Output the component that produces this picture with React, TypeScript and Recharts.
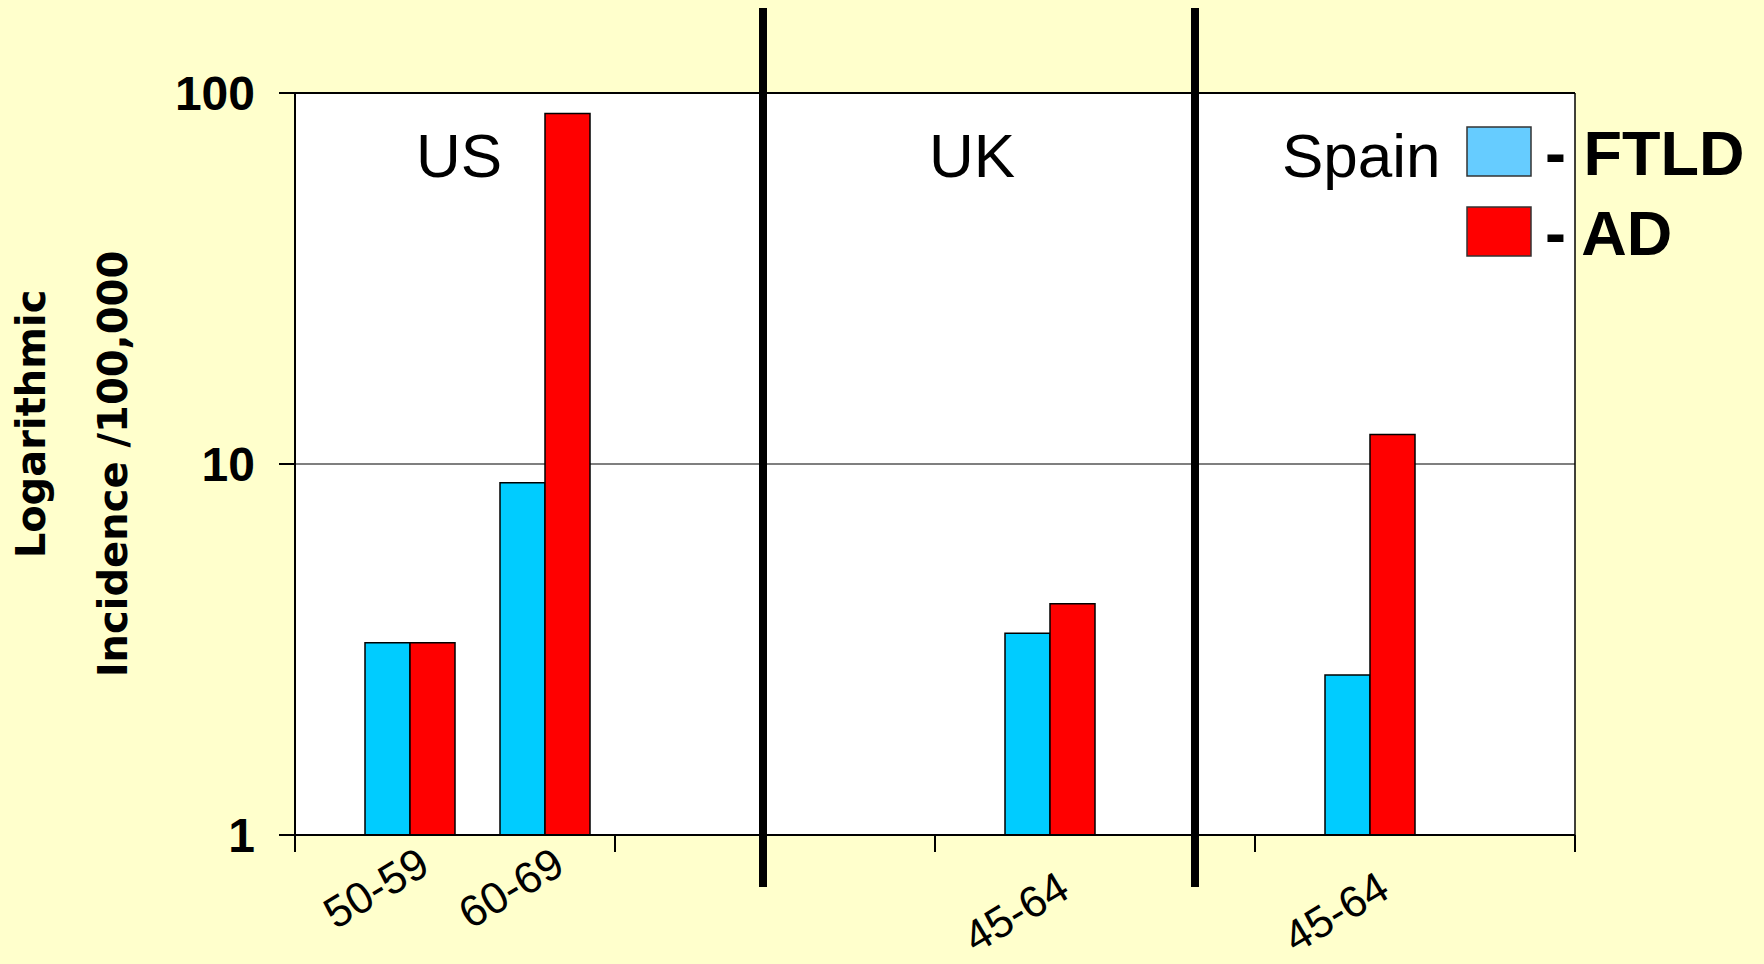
import React from "react";
import {
  Bar,
  BarChart,
  CartesianGrid,
  LabelList,
  Legend,
  ReferenceLine,
  XAxis,
  YAxis,
} from "recharts";

// one row per x-axis band; band 2 is the empty stretch between US and UK
const bands = ["US", "", "UK", "Spain"];
const ftldFirst = [3.3, null, 3.5, 2.7];
const adFirst = [3.3, null, 4.2, 12];
const ftldSecond = [8.9, null, null, null];
const adSecond = [88, null, null, null];
const ageFirst = ["50-59", "", "45-64", "45-64"];
const ageSecond = ["60-69", "", "", ""];

const countryTitles = ["US", "UK", "Spain"];
const legendOrder = ["FTLD", "AD"];
const yTicks = [1, 10, 100];
const bandEdges = [0, 1, 2, 3, 4];
// where the thick country dividers sit, in band units
const regionBreaks = [1.4625, 2.8125];

const data = bands.map((band, i) => ({
  band,
  slot: i + 0.5, // middle of band i
  ftldFirst: ftldFirst[i],
  adFirst: adFirst[i],
  ftldSecond: ftldSecond[i],
  adSecond: adSecond[i],
  ageFirst: ageFirst[i],
  ageSecond: ageSecond[i],
}));

const ARIAL = "'Liberation Sans', Arial, sans-serif";
const FTLD_FILL = "#00CCFF";
const AD_FILL = "#FF0000";
const legendFill: Record<string, string> = { FTLD: "#66CCFF", AD: "#FF0000" };

const renderAgeLabel = (props: any) => {
  const { x, y, height, value, index } = props;
  if (!value) return null;
  const drop = bands[index] === "US" ? 37 : 61;
  const ax = Number(x) + 22;
  const ay = Number(y) + Number(height) + drop;
  return (
    <text
      x={ax}
      y={ay}
      transform={`rotate(-31, ${ax}, ${ay})`}
      textAnchor="end"
      fontSize={44}
      fontFamily={ARIAL}
      fill="#000"
    >
      {value}
    </text>
  );
};

const Divider = (props: any) => {
  const top = Math.min(props.y1, props.y2);
  const bottom = Math.max(props.y1, props.y2);
  return (
    <line
      x1={props.x1}
      x2={props.x2}
      y1={top - 85}
      y2={bottom + 52}
      stroke="#000"
      strokeWidth={8}
    />
  );
};

const renderLegend = (props: any) => {
  const entries = (props.payload || [])
    .filter((e: any) => legendOrder.includes(e.value))
    .sort((a: any, b: any) => legendOrder.indexOf(a.value) - legendOrder.indexOf(b.value));
  return (
    <svg width={304} height={170}>
      {entries.map((entry: any, i: number) => (
        <g key={entry.value} transform={`translate(0, ${i * 80 + 17})`}>
          <rect
            x={7}
            y={7}
            width={64}
            height={49}
            fill={legendFill[entry.value]}
            stroke="#333"
            strokeWidth={1.5}
          />
          <text x={85} y={55} fontSize={63} fontWeight={700} fontFamily={ARIAL} fill="#000">
            - {entry.value}
          </text>
        </g>
      ))}
    </svg>
  );
};

export default function App() {
  const titleX = [459, 972, 1282];
  const titleAnchor = ["middle", "middle", "start"];

  return (
    <div
      style={{
        position: "absolute",
        left: 0,
        top: 0,
        width: 1764,
        height: 964,
        background: "#FFFFCC",
        overflow: "hidden",
      }}
    >
      <BarChart
        width={1764}
        height={964}
        data={data}
        barGap={0}
        barSize={45}
        margin={{ top: 93, right: 189, bottom: 89, left: 195 }}
      >
        <CartesianGrid vertical={false} stroke="#555" strokeWidth={1.5} fill="#fff" />
        <XAxis
          dataKey="slot"
          type="number"
          domain={[0, bands.length]}
          ticks={bandEdges}
          allowDataOverflow
          height={40}
          tickSize={17}
          tickFormatter={() => ""}
          axisLine={{ stroke: "#000", strokeWidth: 2 }}
          tickLine={{ stroke: "#000", strokeWidth: 2 }}
        />
        <YAxis
          type="number"
          scale="log"
          domain={[1, 100]}
          ticks={yTicks}
          allowDataOverflow
          width={100}
          tickSize={16}
          tickMargin={24}
          axisLine={{ stroke: "#000", strokeWidth: 2 }}
          tickLine={{ stroke: "#000", strokeWidth: 2 }}
          tick={{ fill: "#000", fontSize: 48, fontWeight: 700, fontFamily: ARIAL }}
        />
        <ReferenceLine y={100} stroke="#000" strokeWidth={2} />
        <ReferenceLine x={bands.length} stroke="#000" strokeWidth={1.5} />
        {regionBreaks.map((v) => (
          <ReferenceLine key={v} x={v} shape={Divider} />
        ))}

        {/* empty slot ahead of each age group keeps the pairs where the original put them */}
        <Bar dataKey="slotA" legendType="none" isAnimationActive={false} />
        <Bar
          dataKey="ftldFirst"
          name="FTLD"
          fill={FTLD_FILL}
          stroke="#000"
          strokeWidth={1.5}
          isAnimationActive={false}
        />
        <Bar
          dataKey="adFirst"
          name="AD"
          fill={AD_FILL}
          stroke="#000"
          strokeWidth={1.5}
          isAnimationActive={false}
        >
          <LabelList dataKey="ageFirst" content={renderAgeLabel} />
        </Bar>
        <Bar dataKey="slotB" legendType="none" isAnimationActive={false} />
        <Bar
          dataKey="ftldSecond"
          legendType="none"
          fill={FTLD_FILL}
          stroke="#000"
          strokeWidth={1.5}
          isAnimationActive={false}
        />
        <Bar
          dataKey="adSecond"
          legendType="none"
          fill={AD_FILL}
          stroke="#000"
          strokeWidth={1.5}
          isAnimationActive={false}
        >
          <LabelList dataKey="ageSecond" content={renderAgeLabel} />
        </Bar>

        <Legend
          layout="vertical"
          align="center"
          verticalAlign="middle"
          wrapperStyle={{ left: 1460, top: 103, width: 304, height: 170 }}
          content={renderLegend}
        />
      </BarChart>

      <svg
        width={1764}
        height={964}
        style={{ position: "absolute", left: 0, top: 0, pointerEvents: "none" }}
      >
        {countryTitles.map((t, i) => (
          <text
            key={t}
            x={titleX[i]}
            y={177}
            textAnchor={titleAnchor[i] as any}
            fontSize={62}
            fontFamily={ARIAL}
            fill="#000"
          >
            {t}
          </text>
        ))}
        <text
          transform="translate(45, 424) rotate(-90)"
          textAnchor="middle"
          fontSize={40}
          fontWeight={700}
          fontFamily="'DejaVu Sans', Verdana, sans-serif"
          fill="#000"
        >
          Logarithmic
        </text>
        <text
          transform="translate(127, 464) rotate(-90)"
          textAnchor="middle"
          fontSize={40}
          fontWeight={700}
          fontFamily="'DejaVu Sans', Verdana, sans-serif"
          fill="#000"
        >
          Incidence /100,000
        </text>
      </svg>
    </div>
  );
}
